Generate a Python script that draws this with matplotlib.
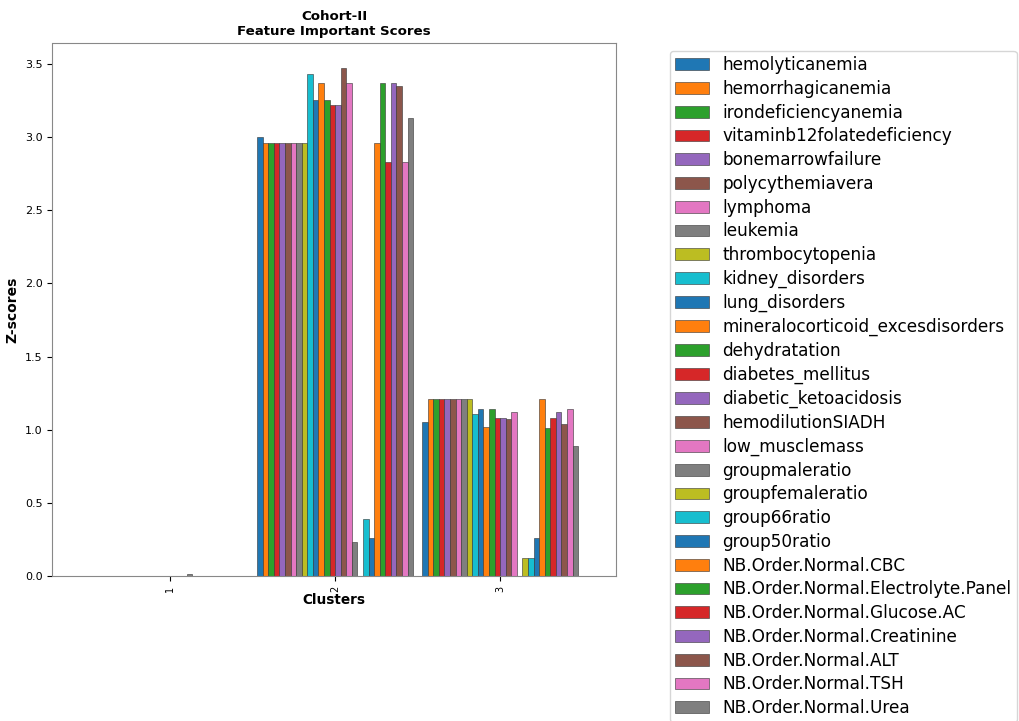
import matplotlib
matplotlib.use("Agg")
import matplotlib.pyplot as plt
import numpy as np

clusters = ["1", "2", "3"]
features = [
    "hemolyticanemia", "hemorrhagicanemia", "irondeficiencyanemia",
    "vitaminb12folatedeficiency", "bonemarrowfailure", "polycythemiavera",
    "lymphoma", "leukemia", "thrombocytopenia", "kidney_disorders",
    "lung_disorders", "mineralocorticoid_excesdisorders", "dehydratation",
    "diabetes_mellitus", "diabetic_ketoacidosis", "hemodilutionSIADH",
    "low_musclemass", "groupmaleratio", "groupfemaleratio", "group66ratio",
    "group50ratio", "NB.Order.Normal.CBC", "NB.Order.Normal.Electrolyte.Panel",
    "NB.Order.Normal.Glucose.AC", "NB.Order.Normal.Creatinine",
    "NB.Order.Normal.ALT", "NB.Order.Normal.TSH", "NB.Order.Normal.Urea",
]

cluster1 = [0, 0, 0, 0, 0, 0, 0, 0, 0, 0, 0, 0, 0, 0, 0, 0, 0, 0.015, 0, 0,
            0, 0, 0, 0, 0, 0, 0, 0]
cluster2 = [3.00, 2.96, 2.96, 2.96, 2.96, 2.96, 2.96, 2.96, 2.96, 3.43,
            3.25, 3.37, 3.25, 3.22, 3.22, 3.47, 3.37, 0.23, 0.0, 0.39,
            0.26, 2.96, 3.37, 2.83, 3.37, 3.35, 2.83, 3.13]
cluster3 = [1.05, 1.21, 1.21, 1.21, 1.21, 1.21, 1.21, 1.21, 1.21, 1.11,
            1.14, 1.02, 1.14, 1.08, 1.08, 1.07, 1.12, 0.0, 0.12, 0.12,
            0.26, 1.21, 1.01, 1.08, 1.12, 1.04, 1.14, 0.89]

values = np.array([cluster1, cluster2, cluster3])  # shape (3, 28)
colors = plt.rcParams["axes.prop_cycle"].by_key()["color"]

fig = plt.figure(figsize=(10.2, 7.21), dpi=100)
ax = fig.add_axes([52.5 / 1020, 1 - 576 / 721, (615.7 - 52.5) / 1020, (576 - 43) / 721])

n = len(features)
group_w = 0.945
bw = group_w / n
x = np.arange(len(clusters))
for i, name in enumerate(features):
    ax.bar(x - group_w / 2 + (i + 0.5) * bw, values[:, i], width=bw,
           color=colors[i % len(colors)], edgecolor="#333333", linewidth=0.4,
           label=name)

ax.set_xlim(-0.712, 2.70)
ax.set_ylim(0, 3.643)
ax.set_xticks(x)
ax.set_xticklabels(clusters, rotation=90, fontsize=7)
ax.tick_params(axis="y", labelsize=8)
ax.set_xlabel("Clusters", fontweight="bold", fontsize=9.8, labelpad=1)
ax.set_ylabel("Z-scores", fontweight="bold", fontsize=10)
ax.set_title("Cohort-II\nFeature Important Scores", fontweight="bold", fontsize=9.6)
for s in ax.spines.values():
    s.set_color("#888888")

ax.legend(loc="upper left", bbox_to_anchor=(670 / 1020, 1 - 51 / 721),
          bbox_transform=fig.transFigure, fontsize=12.2, frameon=True,
          borderaxespad=0, handlelength=2.0, labelspacing=0.34,
          borderpad=0.3)

fig.savefig("out.png", dpi=100)
